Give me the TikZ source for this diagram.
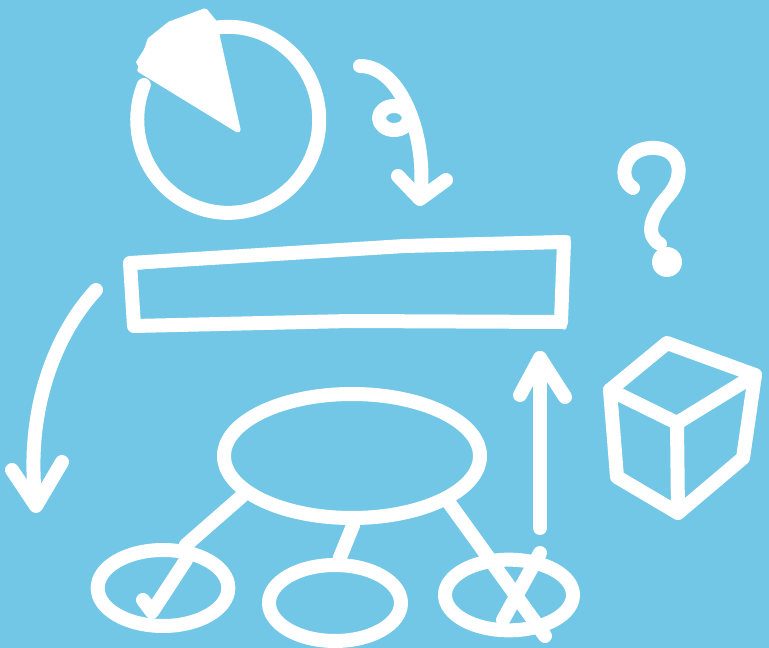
\documentclass[tikz,border=0pt]{standalone}
\usetikzlibrary{shapes.geometric}
\definecolor{bgblue}{RGB}{114,198,230}
\begin{document}
\begin{tikzpicture}[x=0.75pt,y=-0.75pt,
  stroke/.style={white, line width=10.5pt, line cap=round, line join=round},
  thinstroke/.style={white, line width=4pt, line cap=round, line join=round},
  oval/.style={ellipse, draw=white, line width=10.5pt, inner sep=0pt}]
\fill[bgblue] (0,0) rectangle (769,648);
\useasboundingbox (0,0) rectangle (769,648);

% pie chart
\draw[stroke] (214,28) arc[start angle=261, end angle=562, x radius=91, y radius=93];
\fill[white] (238,130) -- (140,70) -- (136,62) -- (150,40) -- (170,24) -- (190,14) -- (205,11) -- (214,22) -- cycle;
\draw[thinstroke] (238,130) -- (140,70) -- (150,40) -- (170,24) -- (205,11) -- (214,22) -- cycle;

% curly arrow top
\draw[stroke] (360,66) .. controls (402,66) and (428,140) .. (420,198);
\draw[stroke] (394,118) ellipse[x radius=15, y radius=12];
\draw[stroke] (398,176) -- (420,199) -- (446,180);

% bar rectangle
\draw[stroke] (130,263) -- (405,246) -- (564,242) -- (561,322) -- (350,321) -- (134,326) -- cycle;
\draw[thinstroke] (128,268) -- (405,242) -- (568,238);
\draw[thinstroke] (566,248) -- (564,327);

% left curved arrow
\draw[stroke] (96,290) .. controls (50,340) and (25,420) .. (36,505);
\draw[stroke] (12,470) -- (36,506) -- (62,462);

% question mark
\draw[stroke] (633,188) .. controls (618,180) and (622,150) .. (650,148)
  .. controls (682,146) and (686,176) .. (668,196)
  .. controls (650,216) and (645,236) .. (660,244);
\fill[white] (667,262) circle[radius=15];

% cube
\coordinate (ct) at (667,343);
\coordinate (crt) at (755,375);
\coordinate (clt) at (610,390);
\coordinate (cft) at (677,423);
\coordinate (clb) at (617,477);
\coordinate (cfb) at (678,513);
\coordinate (crb) at (743,458);
\draw[stroke] (ct) -- (crt) -- (crb) -- (cfb) -- (clb) -- (clt) -- cycle;
\draw[stroke] (clt) -- (cft) -- (crt);
\draw[stroke] (cft) -- (cfb);

% up arrow
\coordinate (ub) at (540,528);
\coordinate (ut) at (540,358);
\draw[stroke] (ub) -- (ut);
\draw[stroke] (520,395) -- (ut) -- (565,397);

% tree of ellipses
\node[oval, minimum width=192pt, minimum height=93pt] (big) at (352,456) {};
\node[oval, minimum width=98pt, minimum height=57pt] (left) at (163,588) {};
\node[oval, minimum width=99pt, minimum height=57pt] (mid) at (335,603) {};
\node[oval, minimum width=96pt, minimum height=53pt] (right) at (509,595) {};

\draw[stroke] (big.200) -- (left.62);
\draw[stroke] (big.271) -- (mid.84);
\coordinate (xend) at (545,636);
\draw[stroke] (big.-26) -- (xend);
\draw[stroke] (540,553) -- (503,620);
\draw[stroke] (143,600) -- (152,612) -- (186,560);
\end{tikzpicture}
\end{document}
